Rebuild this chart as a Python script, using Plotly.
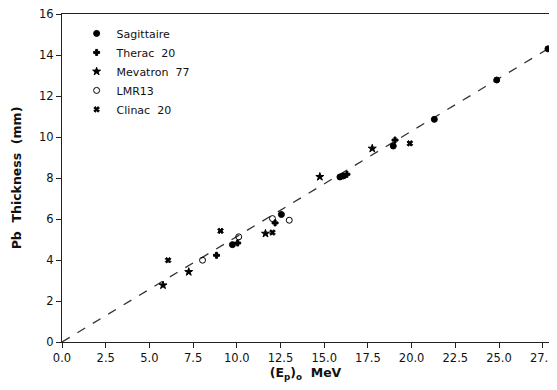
import plotly.graph_objects as go

sag_x = [9.75, 12.55, 15.9, 16.1, 18.95, 21.3, 24.87, 27.8]
sag_y = [4.75, 6.22, 8.05, 8.1, 9.56, 10.86, 12.78, 14.3]
ther_x = [8.84, 10.05, 12.19, 16.3, 19.05]
ther_y = [4.23, 4.83, 5.81, 8.18, 9.85]
mev_x = [5.78, 7.25, 11.64, 14.75, 17.75]
mev_y = [2.77, 3.42, 5.29, 8.06, 9.44]
lmr_x = [8.04, 10.11, 12.04, 13.0]
lmr_y = [3.99, 5.13, 6.02, 5.94]
clin_x = [6.07, 9.07, 12.04, 19.9]
clin_y = [3.99, 5.42, 5.34, 9.69]
fit_x = [0.0, 27.8]
fit_y = [0.0, 14.3]

x_ticks = [0, 2.5, 5, 7.5, 10, 12.5, 15, 17.5, 20, 22.5, 25, 27.5]
y_ticks = [0, 2, 4, 6, 8, 10, 12, 14, 16]

font = "DejaVu Sans"
fig = go.Figure()
fig.add_trace(go.Scatter(x=fit_x, y=fit_y, mode="lines", showlegend=False,
                         line=dict(color="#333", width=1.3, dash="dash")))
series = [
    ("Sagittaire", sag_x, sag_y, "circle", 6),
    ("Therac  20", ther_x, ther_y, "cross", 5),
    ("Mevatron  77", mev_x, mev_y, "star", 6),
    ("LMR13", lmr_x, lmr_y, "circle-open", 6),
    ("Clinac  20", clin_x, clin_y, "x", 5),
]
for name, xs, ys, sym, sz in series:
    fig.add_trace(go.Scatter(x=xs, y=ys, mode="markers", name=name, cliponaxis=False,
                             marker=dict(symbol=sym, size=sz, color="black",
                                         line=dict(color="black", width=1))))

fig.update_layout(
    width=549, height=382,
    margin=dict(l=54, r=8, t=6, b=48),
    plot_bgcolor="white", paper_bgcolor="white",
    font=dict(family=font, size=11, color="#111"),
    legend=dict(x=0.03, y=0.985, xanchor="left", yanchor="top",
                bgcolor="rgba(0,0,0,0)", font=dict(size=11),
                tracegroupgap=0),
    xaxis=dict(range=[0, 27.86], tickvals=x_ticks, tickformat=".1f",
               showgrid=False, zeroline=False, showline=True, linecolor="#222",
               linewidth=1.2, mirror=True, ticks="outside", ticklen=5,
               tickcolor="#222", automargin=False, tickfont=dict(size=11.5),
               ticklabeloverflow="allow",
               title=dict(text="<b>(E<sub>p</sub>)<sub>o</sub>  MeV</b>", font=dict(size=12.5), standoff=4)),
    yaxis=dict(range=[0, 16], tickvals=y_ticks,
               showgrid=False, zeroline=False, showline=True, linecolor="#222",
               linewidth=1.2, mirror=True, ticks="outside", ticklen=5,
               tickcolor="#222", automargin=False, tickfont=dict(size=11.5),
               ticklabeloverflow="allow",
               title=dict(text="<b>Pb  Thickness  (mm)</b>", font=dict(size=12.5), standoff=14)),
)
fig.write_html("out.html")
